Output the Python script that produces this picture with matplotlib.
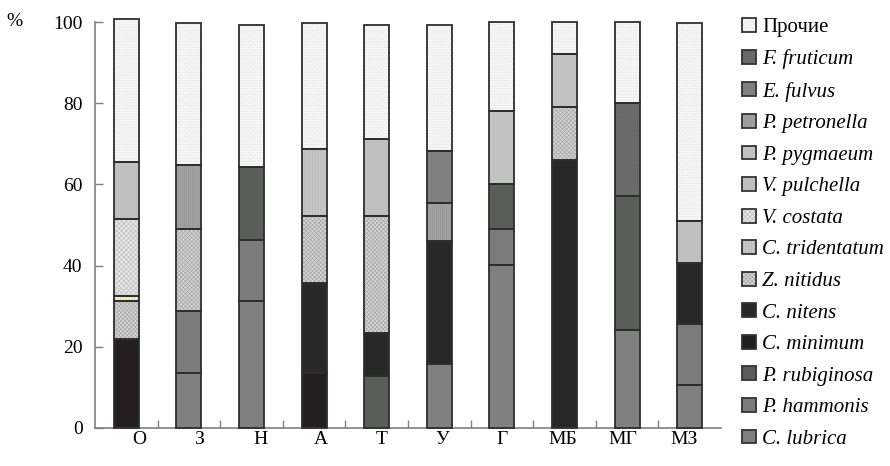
import numpy as np
import matplotlib
matplotlib.use("Agg")
import matplotlib.pyplot as plt
from matplotlib.patches import Patch
from matplotlib.legend_handler import HandlerTuple
from matplotlib.transforms import ScaledTranslation

plt.rcParams['font.family'] = ['Liberation Serif', 'DejaVu Serif']
plt.rcParams['hatch.linewidth'] = 0.45

sites = ['О', 'З', 'Н', 'А', 'Т', 'У', 'Г', 'МБ', 'МГ', 'МЗ']

# share (%) of each species per site, listed bottom-to-top of the stack
c_lubrica     = [0, 13.6, 31.3, 0, 0, 15.8, 40.1, 0, 24.1, 10.7]
p_hammonis    = [0, 15.1, 15.0, 0, 0, 0, 8.8, 0, 0, 14.8]
p_rubiginosa  = [0, 0, 18.1, 0, 12.9, 0, 11.2, 0, 33.0, 0]
c_minimum     = [21.8, 0, 0, 13.5, 0, 0, 0, 0, 0, 0]
c_nitens      = [0, 0, 0, 22.1, 10.4, 30.3, 0, 66.0, 0, 15.1]
z_nitidus     = [9.5, 20.2, 0, 16.6, 28.9, 0, 0, 13.0, 0, 0]
c_tridentatum = [1.3, 0, 0, 16.4, 0, 0, 0, 0, 0, 0]
v_costata     = [19.0, 0, 0, 0, 0, 0, 0, 0, 0, 0]
v_pulchella   = [14.0, 0, 0, 0, 19.1, 0, 0, 0, 0, 10.4]
p_pygmaeum    = [0, 0, 0, 0, 0, 0, 18.1, 13.2, 0, 0]
p_petronella  = [0, 15.8, 0, 0, 0, 9.4, 0, 0, 0, 0]
e_fulvus      = [0, 0, 0, 0, 0, 12.8, 0, 0, 0, 0]
f_fruticum    = [0, 0, 0, 0, 0, 0, 0, 0, 22.9, 0]
others        = [35.1, 35.0, 34.9, 31.1, 28.0, 31.0, 21.8, 7.8, 20.0, 48.7]

series = [
    ('C. lubrica', c_lubrica),
    ('P. hammonis', p_hammonis),
    ('P. rubiginosa', p_rubiginosa),
    ('C. minimum', c_minimum),
    ('C. nitens', c_nitens),
    ('Z. nitidus', z_nitidus),
    ('C. tridentatum', c_tridentatum),
    ('V. costata', v_costata),
    ('V. pulchella', v_pulchella),
    ('P. pygmaeum', p_pygmaeum),
    ('P. petronella', p_petronella),
    ('E. fulvus', e_fulvus),
    ('F. fruticum', f_fruticum),
    ('Прочие', others),
]

# fill colour, hatch pattern, hatch colour
styles = {
    'C. lubrica':     ('#808080', None, None),
    'P. hammonis':    ('#7b7b7b', None, None),
    'P. rubiginosa':  ('#5b5d5b', None, None),
    'C. minimum':     ('#231f20', None, None),
    'C. nitens':      ('#282828', None, None),
    'Z. nitidus':     ('#d4d4d4', 'xxxxxxxx', '#a4a4a4'),
    'C. tridentatum': ('#c6c6c6', '||||||', '#b6b6b6'),
    'V. costata':     ('#e6e6e6', 'xxxxxxx', '#bcbcbc'),
    'V. pulchella':   ('#bfbfbf', None, None),
    'P. pygmaeum':    ('#c2c2c2', None, None),
    'P. petronella':  ('#a4a4a4', '||||||||', '#909090'),
    'E. fulvus':      ('#808080', None, None),
    'F. fruticum':    ('#6c6c6c', '........', '#646464'),
    'Прочие':         ('#f6f6f6', '......', '#e0e0e0'),
}
# the thin C. tridentatum layer at site О is filled in pale yellow
site_fill = {('C. tridentatum', 'О'): '#fdf5c8'}

edge = '#2e2e2e'

fig = plt.figure(figsize=(8.9, 4.66), dpi=100)
ax = fig.add_axes([95 / 890, 1 - 428 / 466, (721 - 95) / 890, (428 - 22) / 466])

x = np.arange(len(sites))
width = 0.40
bottom = np.zeros(len(sites))
handles, labels = [], []
for name, vals in series:
    vals = np.asarray(vals, dtype=float)
    fc, hatch, hc = styles[name]
    mask = vals > 0
    fcs = [site_fill.get((name, s), fc) for s in sites]
    if mask.any():
        ax.bar(x[mask], vals[mask], width, bottom=bottom[mask],
               color=[c for c, m in zip(fcs, mask) if m],
               edgecolor=hc if hatch else 'none', hatch=hatch,
               linewidth=0, clip_on=False, zorder=2)
        ax.bar(x[mask], vals[mask], width, bottom=bottom[mask],
               fill=False, edgecolor=edge, linewidth=1.3,
               clip_on=False, zorder=3)
    bottom += vals
    fill_h = Patch(facecolor=fc, edgecolor=hc if hatch else 'none',
                   hatch=hatch, linewidth=0)
    out_h = Patch(fill=False, edgecolor='#333333', linewidth=1.3)
    handles.append((fill_h, out_h))
    labels.append(name)

ax.set_xlim(-0.5, len(sites) - 0.5)
ax.set_ylim(0, 100)
ax.set_yticks(np.arange(0, 101, 20))
ax.set_xticks(x)
ax.set_xticklabels(sites)
ax.set_xticks(np.arange(0.5, len(sites) - 1, 1), minor=True)
ax.tick_params(axis='x', which='major', length=0, pad=2, labelsize=14)
ax.tick_params(axis='x', which='minor', direction='in', length=6,
               color='#808080', width=1)
ax.tick_params(axis='y', direction='in', length=6, color='#808080',
               width=1, pad=9, labelsize=14)

# category labels sit on a slightly narrower pitch than the bars
for i, lab in enumerate(ax.get_xticklabels()):
    dx = (13 - i * 2.1) / 100
    lab.set_transform(lab.get_transform() + ScaledTranslation(dx, 0, fig.dpi_scale_trans))

for s in ('top', 'right'):
    ax.spines[s].set_visible(False)
for s in ('left', 'bottom'):
    ax.spines[s].set_color('#808080')
    ax.spines[s].set_linewidth(1.2)

fig.text(14 / 890, 1 - 22 / 466, '%', fontsize=14, ha='center', va='center')

leg = fig.legend(handles[::-1], labels[::-1],
                 handler_map={tuple: HandlerTuple(ndivide=1, pad=0)},
                 loc='upper left', bbox_to_anchor=(742 / 890, 1 - 18 / 466),
                 frameon=False, fontsize=15, handlelength=0.65,
                 handleheight=0.65, handletextpad=0.33, labelspacing=0.59,
                 borderaxespad=0, borderpad=0)
for t in leg.get_texts():
    if t.get_text() != 'Прочие':
        t.set_fontstyle('italic')

fig.savefig('out.png', dpi=100)
